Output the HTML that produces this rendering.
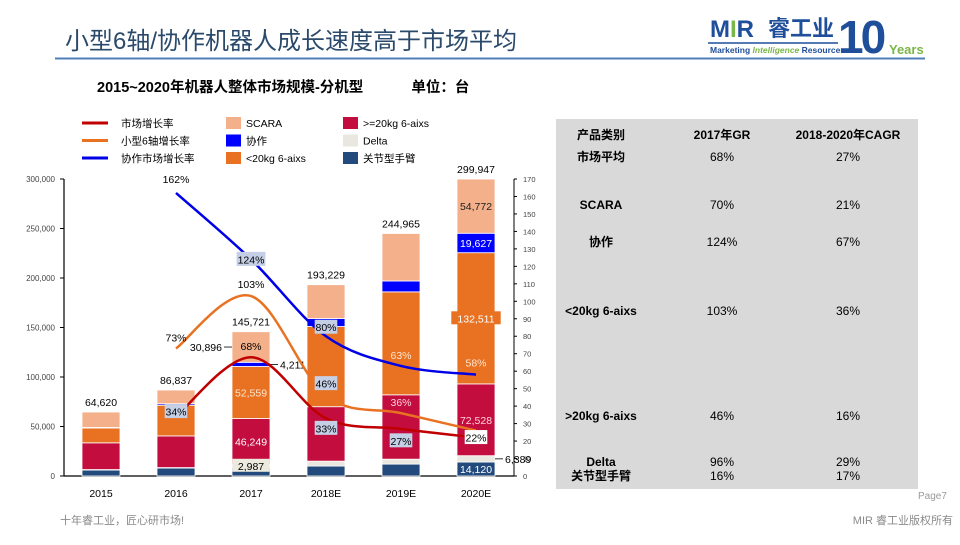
<!DOCTYPE html>
<html><head><meta charset="utf-8">
<style>
html,body{margin:0;padding:0;background:#fff;}
body{width:960px;height:540px;overflow:hidden;font-family:"Liberation Sans","Noto Sans CJK SC",sans-serif;}
svg text{font-family:"Liberation Sans","Noto Sans CJK SC",sans-serif;}
</style></head>
<body>
<svg id="page" width="960" height="540" viewBox="0 0 960 540" xmlns="http://www.w3.org/2000/svg">
  <text x="65" y="49" font-size="24" fill="#2b4a6b">小型6轴/协作机器人成长速度高于市场平均</text>
  <line x1="55" y1="58.5" x2="925" y2="58.5" stroke="#4f7fb8" stroke-width="2"/>
  <g>
    <text x="710" y="37" font-size="24" font-weight="bold" fill="#1f4e9a" font-family="Liberation Serif, serif">M<tspan fill="#7ab648">I</tspan>R</text>
    <text x="768" y="36" font-size="22" font-weight="bold" fill="#1f4e9a">睿工业</text>
    <line x1="708" y1="43" x2="838" y2="43" stroke="#1f4e9a" stroke-width="1.5"/>
    <text x="710" y="53" font-size="8.5" font-weight="bold" fill="#1f4e9a">Marketing <tspan fill="#7ab648" font-style="italic">Intelligence</tspan> Resource</text>
    <text x="838" y="53" font-size="46" font-weight="bold" fill="#1f4e9a" letter-spacing="-3">10</text>
    <text x="889" y="54" font-size="13" font-weight="bold" fill="#7ab648">Years</text>
  </g>
  <text x="97" y="92" font-size="14.5" font-weight="bold" fill="#000">2015~2020年机器人整体市场规模-分机型 <tspan dx="44">单位：台</tspan></text>
  <g id="chart"></g>
  <g>
    <rect x="556" y="119" width="362" height="370" fill="#d9d9d9"/>
  </g>
  <g id="table"></g>
  <text x="918" y="499" font-size="10" fill="#9a9a9a">Page7</text>
  <text x="60" y="524" font-size="11" fill="#8a8a8a">十年睿工业，匠心研市场!</text>
  <text x="953" y="524" font-size="11" fill="#8a8a8a" text-anchor="end">MIR 睿工业版权所有</text>
</svg>
<script>
const categories = ["2015","2016","2017","2018E","2019E","2020E"];
const seriesNames = ["关节型手臂","Delta",">=20kg 6-aixs","<20kg 6-aixs","协作","SCARA"];
const jointArm = [6000, 8000, 8819, 10000, 12000, 14120];
const delta = [500, 500, 2987, 5000, 5000, 6389];
const heavy6 = [27000, 32000, 46249, 55000, 65000, 72528];
const light6 = [15000, 31000, 52559, 81000, 104000, 132511];
const cobot = [500, 1500, 4211, 8000, 11000, 19627];
const scara = [15620, 13837, 30896, 34229, 47965, 54772];
const totals = ["64,620","86,837","145,721","193,229","244,965","299,947"];
const leftTicks = [0,50000,100000,150000,200000,250000,300000];
const leftTickLabels = ["0","50,000","100,000","150,000","200,000","250,000","300,000"];
const rightTicks = [0,10,20,30,40,50,60,70,80,90,100,110,120,130,140,150,160,170];
const marketGrowth = [null, 34, 68, 33, 27, 22];
const small6Growth = [null, 73, 103, 46, 36, 26];
const cobotGrowth = [null, 162, 124, 80, 63, 58];

const NS="http://www.w3.org/2000/svg";
const chart=document.getElementById('chart');
function el(tag,attrs,parent,text){const e=document.createElementNS(NS,tag);for(const k in attrs)e.setAttribute(k,attrs[k]);if(text!==undefined)e.textContent=text;(parent||chart).appendChild(e);return e;}
const X0=64,X1=514,Y0=476,Y1=179;
const xS=i=>101+i*75;
const yL=v=>Y0-(v/300000)*(Y0-Y1);
const yR=v=>Y0-(v/170)*(Y0-Y1);
const colors=["#234a7c","#e9e7df","#c30d3f","#e87222","#0000ff","#f4b08a"];
const series=[jointArm,delta,heavy6,light6,cobot,scara];

let a=el('line',{x1:X0,y1:Y1,x2:X0,y2:Y0,stroke:'#000','stroke-width':1.2});


leftTicks.forEach((t,i)=>{
  let tk=el('line',{x1:X0-4,y1:yL(t),x2:X0,y2:yL(t),stroke:'#000'});
  
  
  let tl=el('text',{x:X0-9,y:yL(t)+3,'font-size':8,fill:'#444','text-anchor':'end'},chart,leftTickLabels[i]);
  
  
});
let ra=el('line',{x1:X1,y1:Y1,x2:X1,y2:Y0,stroke:'#000','stroke-width':1});


rightTicks.forEach(t=>{
  let tk=el('line',{x1:X1,y1:yR(t),x2:X1+3,y2:yR(t),stroke:'#000'});
  
  
  let tl=el('text',{x:X1+9,y:yR(t)+3,'font-size':7.5,fill:'#444'},chart,String(t));
  
  
});
let xa=el('line',{x1:X0,y1:Y0,x2:X1,y2:Y0,stroke:'#000','stroke-width':1.2});


categories.forEach((c,i)=>{
  let t=el('text',{x:xS(i),y:497,'font-size':10.5,fill:'#000','text-anchor':'middle'},chart,c);
  
  
});

const BW=38;
categories.forEach((c,i)=>{
  let cum=0;
  series.forEach((s,k)=>{
    const y0=yL(cum),y1=yL(cum+s[i]);
    let r=el('rect',{x:xS(i)-BW/2,y:y1,width:BW,height:Math.max(0,y0-y1),fill:colors[k],stroke:'#fff','stroke-width':0.8});
    
    
    cum+=s[i];
  });
  let t=el('text',{x:xS(i),y:yL(cum)-6,'font-size':10.5,fill:'#000','text-anchor':'middle'},chart,totals[i]);
  
  
});
function fmt(v){return v.toLocaleString('en-US');}
function segMid(i,k){let c=0;for(let j=0;j<k;j++)c+=series[j][i];return yL(c+series[k][i]/2);}
function segLabel(i,k,fill,bg,dx){
  const txt=fmt(series[k][i]);const x=xS(i)+(dx||0),y=segMid(i,k);
  if(bg){let b=el('rect',{x:x-txt.length*3.1-3,y:y-7,width:txt.length*6.2+6,height:13,fill:bg});
    
    }
  let t=el('text',{x:x,y:y+4,'font-size':10.5,fill:fill,'text-anchor':'middle'},chart,txt);
  
  
}
segLabel(2,1,'#000','#ece9df');
segLabel(2,2,'#fff');
segLabel(2,3,'#fde6cf');
segLabel(5,0,'#fff');
segLabel(5,2,'#ffd3dc');
segLabel(5,3,'#fff','#e87222');
segLabel(5,4,'#fff');
segLabel(5,5,'#222');
function sideLabel(i,k,side){
  const y=segMid(i,k);const xe=xS(i)+side*BW/2;const txt=fmt(series[k][i]);
  let l=el('line',{x1:xe,y1:y,x2:xe+side*8,y2:y,stroke:'#000','stroke-width':0.8});
  
  
  let t=el('text',{x:xe+side*10,y:y+4,'font-size':10.5,fill:'#000','text-anchor':side>0?'start':'end'},chart,txt);
  
  
}
sideLabel(2,4,1);
sideLabel(2,5,-1);
sideLabel(5,1,1);

function smoothPath(vals){
  const pts=[];vals.forEach((v,i)=>{if(v!==null)pts.push([xS(i),yR(v)]);});
  let d='M'+pts[0][0]+','+pts[0][1];
  for(let i=0;i<pts.length-1;i++){
    const p0=pts[i-1]||pts[i],p1=pts[i],p2=pts[i+1],p3=pts[i+2]||p2;
    const c1=[p1[0]+(p2[0]-p0[0])/6,p1[1]+(p2[1]-p0[1])/6];
    const c2=[p2[0]-(p3[0]-p1[0])/6,p2[1]-(p3[1]-p1[1])/6];
    d+=' C'+c1[0]+','+c1[1]+' '+c2[0]+','+c2[1]+' '+p2[0]+','+p2[1];
  }
  return d;
}
let p1=el('path',{d:smoothPath(small6Growth),fill:'none',stroke:'#e87222','stroke-width':2.5});


let p2=el('path',{d:smoothPath(marketGrowth),fill:'none',stroke:'#c00000','stroke-width':2.5});


let p3=el('path',{d:smoothPath(cobotGrowth),fill:'none',stroke:'#0000e6','stroke-width':2.5});



function pctLabel(vals,i,dx,dy,fill,bg,name){
  const txt=vals[i]+'%';const x=xS(i)+dx,y=yR(vals[i])+dy;
  if(bg){let b=el('rect',{x:x-txt.length*3.1-2,y:y-7.5,width:txt.length*6.2+4,height:14,fill:bg});
    
    }
  let t=el('text',{x:x,y:y+4,'font-size':10.5,fill:fill,'text-anchor':'middle'},chart,txt);
  
  
}
pctLabel(cobotGrowth,1,0,-14,'#000',null,'cobot-growth-label');
pctLabel(cobotGrowth,2,0,0,'#000','#c5d0e6','cobot-growth-label');
pctLabel(cobotGrowth,3,0,-9,'#000','#c5d0e6','cobot-growth-label');
pctLabel(cobotGrowth,4,0,-11,'#fde6cf',null,'cobot-growth-label');
pctLabel(cobotGrowth,5,0,-12,'#fde6cf',null,'cobot-growth-label');
pctLabel(small6Growth,1,0,-11,'#000',null,'small-6axis-growth-label');
pctLabel(small6Growth,2,0,-12,'#000',null,'small-6axis-growth-label');
pctLabel(small6Growth,3,0,-12,'#000','#c5d0e6','small-6axis-growth-label');
pctLabel(small6Growth,4,0,-11,'#ffd3dc',null,'small-6axis-growth-label');
pctLabel(marketGrowth,1,0,-5,'#000','#c5d0e6','market-growth-label');
pctLabel(marketGrowth,2,0,-11,'#000',null,'market-growth-label');
pctLabel(marketGrowth,3,0,10,'#000','#c5d0e6','market-growth-label');
pctLabel(marketGrowth,4,0,12,'#000','#c5d0e6','market-growth-label');
pctLabel(marketGrowth,5,0,0,'#000','#fff','market-growth-label');

const lineLegend=[["市场增长率","#c00000"],["小型6轴增长率","#e87222"],["协作市场增长率","#0000e6"]];
lineLegend.forEach((l,i)=>{
  const y=123+i*17.5;
  let g=el('g',{});
  
  
  el('line',{x1:82,y1:y,x2:108,y2:y,stroke:l[1],'stroke-width':3},g);
  el('text',{x:121,y:y+4,'font-size':10.5,fill:'#000'},g,l[0]);
});
const boxLegend=[["SCARA",5,226,0],["协作",4,226,1],["<20kg 6-aixs",3,226,2],[">=20kg 6-aixs",2,343,0],["Delta",1,343,1],["关节型手臂",0,343,2]];
boxLegend.forEach(b=>{
  const y=123+b[3]*17.5;
  let g=el('g',{});
  
  
  el('rect',{x:b[2],y:y-6,width:15,height:12,fill:colors[b[1]]},g);
  el('text',{x:b[2]+20,y:y+4,'font-size':10.5,fill:'#000'},g,b[0]);
});

const tbl=document.getElementById('table');
const rows=[["产品类别","2017年GR","2018-2020年CAGR",135,true],["市场平均","68%","27%",157,false],["SCARA","70%","21%",205,false],["协作","124%","67%",242,false],["<20kg 6-aixs","103%","36%",311,false],[">20kg 6-aixs","46%","16%",416,false],["Delta","96%","29%",462,false],["关节型手臂","16%","17%",476,false]];
rows.forEach(r=>{
  const y=r[3]+4;
  let t1=el('text',{x:601,y:y,'font-size':12,'font-weight':'bold','text-anchor':'middle',fill:'#000'},tbl,r[0]);
  
  
  let t2=el('text',{x:722,y:y,'font-size':12,'font-weight':r[4]?'bold':'normal','text-anchor':'middle',fill:'#000'},tbl,r[1]);
  
  
  let t3=el('text',{x:848,y:y,'font-size':12,'font-weight':r[4]?'bold':'normal','text-anchor':'middle',fill:'#000'},tbl,r[2]);
  
  
});
</script>
</body></html>
